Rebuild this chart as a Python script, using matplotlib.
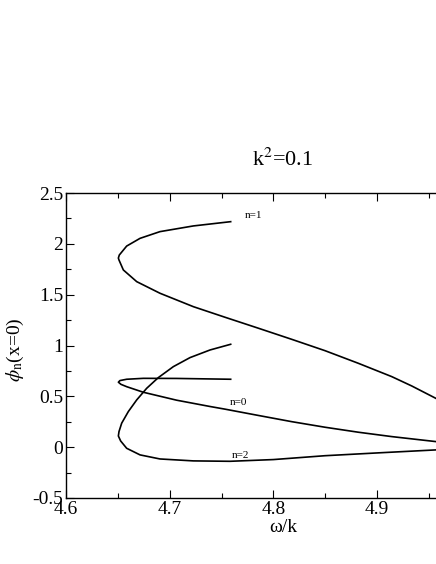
import matplotlib
matplotlib.use('Agg')
import matplotlib.pyplot as plt
from matplotlib.ticker import MultipleLocator

plt.rcParams['font.family'] = ['Liberation Serif', 'DejaVu Serif']
plt.rcParams['mathtext.fontset'] = 'stix'

# branches (omega/k, phi_n(x=0)), in drawing order
n1_x = [4.7588, 4.7228, 4.6906, 4.6714, 4.6585, 4.6514, 4.6505, 4.6511, 4.6553,
        4.6682, 4.6906, 4.7228, 4.7533, 4.7855, 4.8176, 4.8498, 4.8819, 4.9141,
        4.9334, 4.9565]
n1_y = [2.218, 2.176, 2.120, 2.054, 1.978, 1.890, 1.860, 1.841, 1.743,
        1.628, 1.514, 1.382, 1.278, 1.170, 1.061, 0.949, 0.825, 0.694,
        0.602, 0.481]

n0_x = [4.7588, 4.7067, 4.6746, 4.6585, 4.6520, 4.6505, 4.6530, 4.6585, 4.6746,
        4.7067, 4.7389, 4.7533, 4.7855, 4.8176, 4.8498, 4.8819, 4.9141, 4.9565]
n0_y = [0.668, 0.676, 0.677, 0.668, 0.655, 0.639, 0.618, 0.595, 0.540,
        0.462, 0.400, 0.374, 0.312, 0.251, 0.196, 0.147, 0.104, 0.055]

n2_x = [4.7588, 4.7389, 4.7196, 4.7035, 4.6890, 4.6778, 4.6682, 4.6601, 4.6537,
        4.6511, 4.6505, 4.6527, 4.6585, 4.6714, 4.6906, 4.7228, 4.7581, 4.800,
        4.8498, 4.905, 4.9565]
n2_y = [1.012, 0.956, 0.881, 0.792, 0.684, 0.579, 0.465, 0.350, 0.236,
        0.153, 0.110, 0.061, -0.011, -0.076, -0.116, -0.135, -0.139, -0.122,
        -0.084, -0.054, -0.027]

labels = ['n=1', 'n=0', 'n=2']
label_x = [4.772, 4.758, 4.760]
label_y = [2.274, 0.435, -0.086]

fig = plt.figure(figsize=(4.36, 5.64), dpi=100)
ax = fig.add_axes([66 / 436, 66 / 564, 0.4 * 1037 / 436, 305 / 564])

for xs, ys in [(n1_x, n1_y), (n0_x, n0_y), (n2_x, n2_y)]:
    ax.plot(xs, ys, color='black', lw=1.2, solid_joinstyle='round')

for t, lx, ly in zip(labels, label_x, label_y):
    ax.text(lx, ly, t, fontsize=8, ha='left', va='center')

ax.set_xlim(4.6, 5.0)
ax.set_ylim(-0.5, 2.5)
ax.xaxis.set_major_locator(MultipleLocator(0.1))
ax.xaxis.set_minor_locator(MultipleLocator(0.05))
ax.yaxis.set_major_locator(MultipleLocator(0.5))
ax.yaxis.set_minor_locator(MultipleLocator(0.25))
# the 5.0 label would sit outside the picture, as in the original
ax.xaxis.set_major_formatter(plt.FuncFormatter(lambda v, p: f'{v:g}' if v < 4.95 else ''))
ax.yaxis.set_major_formatter(plt.FuncFormatter(lambda v, p: f'{v:g}'))
ax.tick_params(which='both', direction='in', top=True, right=True, labelsize=14, pad=2)
ax.tick_params(which='major', length=6, width=0.8)
ax.tick_params(which='minor', length=3.5, width=0.8)
for s in ax.spines.values():
    s.set_linewidth(1.0)

fig.text(283 / 436, 1 - 160 / 564, r'k$^2$=0.1', fontsize=16, ha='center', va='center')
fig.text(283 / 436, 1 - 527 / 564, 'ω/k', fontsize=14, ha='center', va='center')
fig.text(15 / 436, 1 - 350 / 564, r'$\phi_{\rm n}$(x=0)', fontsize=14,
         ha='center', va='center', rotation=90)

fig.savefig('out.png', dpi=100)
